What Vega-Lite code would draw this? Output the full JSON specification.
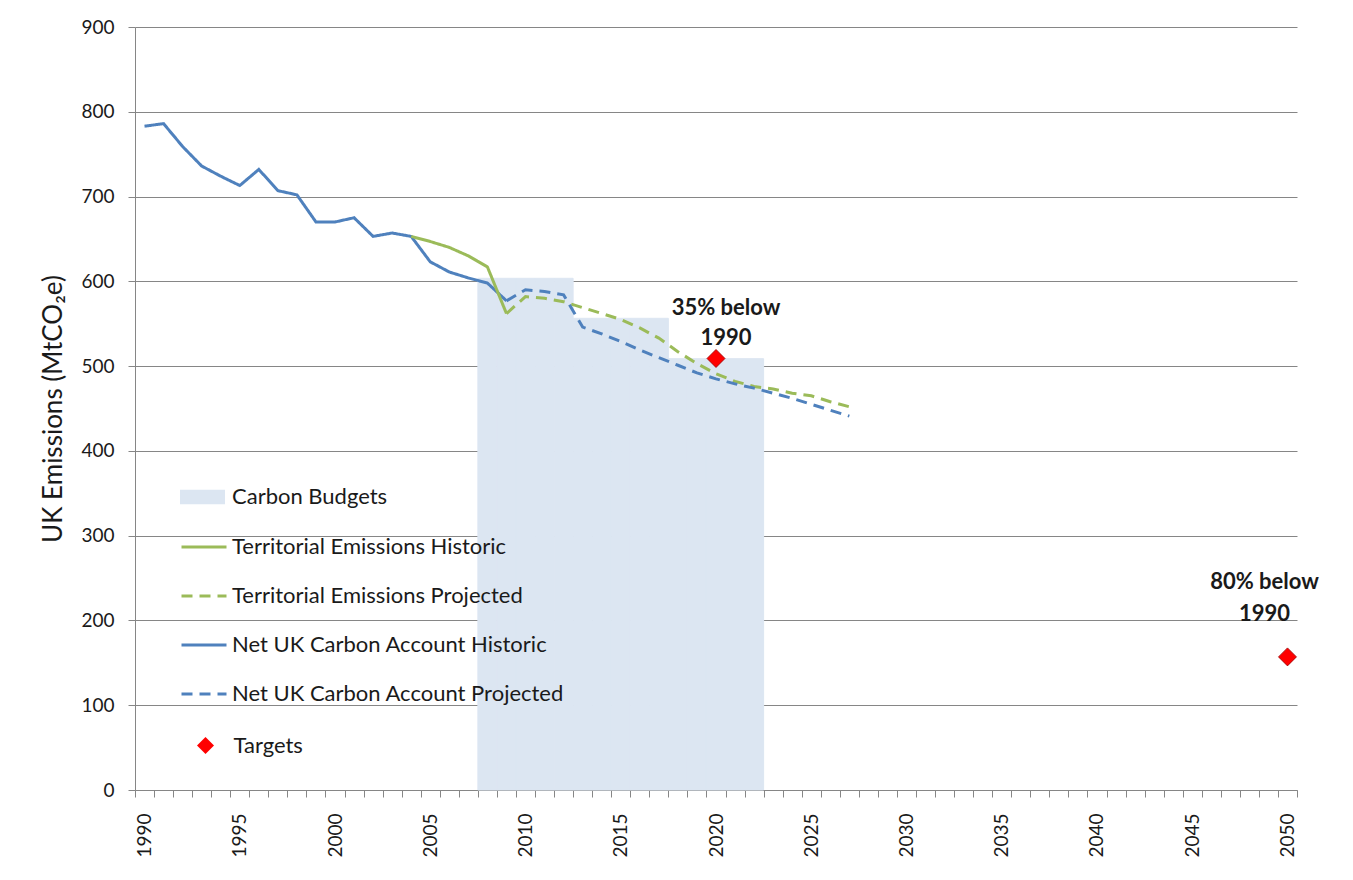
{
  "$schema": "https://vega.github.io/schema/vega-lite/v6.json",
  "width": 1162,
  "height": 763,
  "autosize": {"type": "none"},
  "padding": {"left": 135, "top": 27, "right": 56, "bottom": 90},
  "background": "white",
  "config": {"view": {"stroke": null}, "font": "Lato"},
  "datasets": {
    "emissions": [
      {"year": 1990, "series": "Net UK Carbon Account Historic", "value": 783},
      {"year": 1991, "series": "Net UK Carbon Account Historic", "value": 786},
      {"year": 1992, "series": "Net UK Carbon Account Historic", "value": 759},
      {"year": 1993, "series": "Net UK Carbon Account Historic", "value": 736},
      {"year": 1994, "series": "Net UK Carbon Account Historic", "value": 724},
      {"year": 1995, "series": "Net UK Carbon Account Historic", "value": 713},
      {"year": 1996, "series": "Net UK Carbon Account Historic", "value": 732},
      {"year": 1997, "series": "Net UK Carbon Account Historic", "value": 707},
      {"year": 1998, "series": "Net UK Carbon Account Historic", "value": 702},
      {"year": 1999, "series": "Net UK Carbon Account Historic", "value": 670},
      {"year": 2000, "series": "Net UK Carbon Account Historic", "value": 670},
      {"year": 2001, "series": "Net UK Carbon Account Historic", "value": 675},
      {"year": 2002, "series": "Net UK Carbon Account Historic", "value": 653},
      {"year": 2003, "series": "Net UK Carbon Account Historic", "value": 657},
      {"year": 2004, "series": "Net UK Carbon Account Historic", "value": 653},
      {"year": 2005, "series": "Net UK Carbon Account Historic", "value": 623},
      {"year": 2006, "series": "Net UK Carbon Account Historic", "value": 611},
      {"year": 2007, "series": "Net UK Carbon Account Historic", "value": 604},
      {"year": 2008, "series": "Net UK Carbon Account Historic", "value": 598},
      {"year": 2009, "series": "Net UK Carbon Account Historic", "value": 577},
      {"year": 2004, "series": "Territorial Emissions Historic", "value": 653},
      {"year": 2005, "series": "Territorial Emissions Historic", "value": 647},
      {"year": 2006, "series": "Territorial Emissions Historic", "value": 640},
      {"year": 2007, "series": "Territorial Emissions Historic", "value": 630},
      {"year": 2008, "series": "Territorial Emissions Historic", "value": 617},
      {"year": 2009, "series": "Territorial Emissions Historic", "value": 562},
      {"year": 2009, "series": "Territorial Emissions Projected", "value": 562},
      {"year": 2010, "series": "Territorial Emissions Projected", "value": 582},
      {"year": 2011, "series": "Territorial Emissions Projected", "value": 580},
      {"year": 2012, "series": "Territorial Emissions Projected", "value": 576},
      {"year": 2013, "series": "Territorial Emissions Projected", "value": 569},
      {"year": 2014, "series": "Territorial Emissions Projected", "value": 562},
      {"year": 2015, "series": "Territorial Emissions Projected", "value": 555},
      {"year": 2016, "series": "Territorial Emissions Projected", "value": 545},
      {"year": 2017, "series": "Territorial Emissions Projected", "value": 533},
      {"year": 2018, "series": "Territorial Emissions Projected", "value": 517},
      {"year": 2019, "series": "Territorial Emissions Projected", "value": 503},
      {"year": 2020, "series": "Territorial Emissions Projected", "value": 491},
      {"year": 2021, "series": "Territorial Emissions Projected", "value": 482},
      {"year": 2022, "series": "Territorial Emissions Projected", "value": 476},
      {"year": 2023, "series": "Territorial Emissions Projected", "value": 473},
      {"year": 2024, "series": "Territorial Emissions Projected", "value": 468},
      {"year": 2025, "series": "Territorial Emissions Projected", "value": 465},
      {"year": 2026, "series": "Territorial Emissions Projected", "value": 458},
      {"year": 2027, "series": "Territorial Emissions Projected", "value": 452},
      {"year": 2009, "series": "Net UK Carbon Account Projected", "value": 577},
      {"year": 2010, "series": "Net UK Carbon Account Projected", "value": 590},
      {"year": 2011, "series": "Net UK Carbon Account Projected", "value": 588},
      {"year": 2012, "series": "Net UK Carbon Account Projected", "value": 584},
      {"year": 2013, "series": "Net UK Carbon Account Projected", "value": 546},
      {"year": 2014, "series": "Net UK Carbon Account Projected", "value": 538},
      {"year": 2015, "series": "Net UK Carbon Account Projected", "value": 529},
      {"year": 2016, "series": "Net UK Carbon Account Projected", "value": 519},
      {"year": 2017, "series": "Net UK Carbon Account Projected", "value": 510},
      {"year": 2018, "series": "Net UK Carbon Account Projected", "value": 501},
      {"year": 2019, "series": "Net UK Carbon Account Projected", "value": 492},
      {"year": 2020, "series": "Net UK Carbon Account Projected", "value": 485},
      {"year": 2021, "series": "Net UK Carbon Account Projected", "value": 479},
      {"year": 2022, "series": "Net UK Carbon Account Projected", "value": 474},
      {"year": 2023, "series": "Net UK Carbon Account Projected", "value": 468},
      {"year": 2024, "series": "Net UK Carbon Account Projected", "value": 462},
      {"year": 2025, "series": "Net UK Carbon Account Projected", "value": 455},
      {"year": 2026, "series": "Net UK Carbon Account Projected", "value": 448},
      {"year": 2027, "series": "Net UK Carbon Account Projected", "value": 441}
    ],
    "budgets": [
      {"year": 2008, "series": "Carbon Budgets", "value": 603.6},
      {"year": 2009, "series": "Carbon Budgets", "value": 603.6},
      {"year": 2010, "series": "Carbon Budgets", "value": 603.6},
      {"year": 2011, "series": "Carbon Budgets", "value": 603.6},
      {"year": 2012, "series": "Carbon Budgets", "value": 603.6},
      {"year": 2013, "series": "Carbon Budgets", "value": 556.4},
      {"year": 2014, "series": "Carbon Budgets", "value": 556.4},
      {"year": 2015, "series": "Carbon Budgets", "value": 556.4},
      {"year": 2016, "series": "Carbon Budgets", "value": 556.4},
      {"year": 2017, "series": "Carbon Budgets", "value": 556.4},
      {"year": 2018, "series": "Carbon Budgets", "value": 508.8},
      {"year": 2019, "series": "Carbon Budgets", "value": 508.8},
      {"year": 2020, "series": "Carbon Budgets", "value": 508.8},
      {"year": 2021, "series": "Carbon Budgets", "value": 508.8},
      {"year": 2022, "series": "Carbon Budgets", "value": 508.8}
    ],
    "targets": [
      {"year": 2020, "series": "Targets", "value": 509, "label": "35% below\n1990"},
      {"year": 2050, "series": "Targets", "value": 157, "label": "80% below\n1990"}
    ]
  },
  "encoding": {
    "x": {
      "field": "year",
      "type": "ordinal",
      "scale": {
        "domain": [1990,1991,1992,1993,1994,1995,1996,1997,1998,1999,2000,2001,2002,2003,2004,2005,2006,2007,2008,2009,2010,2011,2012,2013,2014,2015,2016,2017,2018,2019,2020,2021,2022,2023,2024,2025,2026,2027,2028,2029,2030,2031,2032,2033,2034,2035,2036,2037,2038,2039,2040,2041,2042,2043,2044,2045,2046,2047,2048,2049,2050],
        "paddingInner": 0,
        "paddingOuter": 0
      },
      "axis": {
        "title": null,
        "tickBand": "extent",
        "labelAngle": -90,
        "labelExpr": "datum.value % 5 === 0 ? datum.label : ''",
        "labelFont": "Lato",
        "labelFontSize": 19,
        "labelColor": "#1a1a1a",
        "labelPadding": 16,
        "labelOverlap": false,
        "tickSize": 7,
        "tickColor": "#868686",
        "domainColor": "#868686",
        "grid": false
      }
    },
    "y": {
      "field": "value",
      "type": "quantitative",
      "scale": {"domain": [0, 900], "nice": false},
      "axis": {
        "title": "UK Emissions (MtCO₂e)",
        "titleFont": "Lato",
        "titleFontSize": 26,
        "titleFontWeight": "normal",
        "titleColor": "#1a1a1a",
        "titlePadding": 14,
        "values": [0,100,200,300,400,500,600,700,800,900],
        "labelFont": "Lato",
        "labelFontSize": 19,
        "labelColor": "#1a1a1a",
        "labelPadding": 14,
        "tickSize": 7,
        "tickColor": "#868686",
        "domainColor": "#868686",
        "grid": true,
        "gridColor": "#868686",
        "gridWidth": 1
      }
    }
  },
  "layer": [
    {
      "data": {"name": "budgets"},
      "mark": {"type": "bar", "opacity": 1, "stroke": "#DCE6F2", "strokeWidth": 1},
      "encoding": {
        "fill": {
          "field": "series",
          "type": "nominal",
          "scale": {"domain": ["Carbon Budgets"], "range": ["#DCE6F2"]},
          "legend": {
            "title": null,
            "orient": "none",
            "legendX": 45,
            "legendY": 447.5,
            "padding": 0,
            "labelFont": "Lato",
            "labelFontSize": 22,
            "labelColor": "#1a1a1a",
            "labelOffset": 7,
            "labelLimit": 600,
            "symbolType": "M-1,-0.32L1,-0.32L1,0.32L-1,0.32Z",
            "symbolSize": 2025,
            "symbolStrokeWidth": 0,
            "clipHeight": 45
          }
        }
      }
    },
    {
      "data": {"name": "emissions"},
      "mark": {"type": "line", "strokeWidth": 3},
      "encoding": {
        "color": {
          "field": "series",
          "type": "nominal",
          "scale": {
            "domain": ["Territorial Emissions Historic", "Territorial Emissions Projected", "Net UK Carbon Account Historic", "Net UK Carbon Account Projected"],
            "range": ["#9BBB59", "#9BBB59", "#4F81BD", "#4F81BD"]
          },
          "legend": {
            "title": null,
            "orient": "none",
            "legendX": 45,
            "legendY": 497.5,
            "padding": 0,
            "labelFont": "Lato",
            "labelFontSize": 22,
            "labelColor": "#1a1a1a",
            "labelOffset": 4,
            "labelLimit": 600,
            "symbolType": "stroke",
            "symbolSize": 2025,
            "symbolStrokeWidth": 3,
            "clipHeight": 45,
            "rowPadding": 4
          }
        },
        "strokeDash": {
          "field": "series",
          "type": "nominal",
          "scale": {
            "domain": ["Territorial Emissions Historic", "Territorial Emissions Projected", "Net UK Carbon Account Historic", "Net UK Carbon Account Projected"],
            "range": [[1, 0], [11, 7], [1, 0], [11, 7]]
          },
          "legend": {
            "title": null,
            "orient": "none",
            "legendX": 45,
            "legendY": 497.5,
            "padding": 0,
            "labelFont": "Lato",
            "labelFontSize": 22,
            "labelColor": "#1a1a1a",
            "labelOffset": 4,
            "labelLimit": 600,
            "symbolType": "stroke",
            "symbolSize": 2025,
            "symbolStrokeWidth": 3,
            "clipHeight": 45,
            "rowPadding": 4
          }
        }
      }
    },
    {
      "data": {"name": "targets"},
      "mark": {"type": "point", "filled": true, "size": 324, "opacity": 1, "stroke": "#990000", "strokeWidth": 0.8},
      "encoding": {
        "color": {"value": "#FF0000"},
        "shape": {
          "field": "series",
          "type": "nominal",
          "scale": {"domain": ["Targets"], "range": ["diamond"]},
          "legend": {
            "title": null,
            "orient": "none",
            "legendX": 59.5,
            "legendY": 707.5,
            "padding": 0,
            "labelFont": "Lato",
            "labelFontSize": 22,
            "labelColor": "#1a1a1a",
            "labelOffset": 17,
            "labelLimit": 600,
            "symbolSize": 289,
            "symbolFillColor": "#FF0000",
            "symbolStrokeColor": "#990000",
            "symbolStrokeWidth": 0.8,
            "symbolOpacity": 1
          }
        }
      }
    },
    {
      "data": {"name": "targets"},
      "transform": [{"filter": "datum.year === 2020"}],
      "mark": {"type": "text", "lineBreak": "\n", "lineHeight": 30, "font": "Lato", "fontSize": 22, "fontWeight": "bold", "color": "#1a1a1a", "align": "center", "baseline": "middle", "dx": 10, "dy": -50},
      "encoding": {"text": {"field": "label"}}
    },
    {
      "data": {"name": "targets"},
      "transform": [{"filter": "datum.year === 2050"}],
      "mark": {"type": "text", "lineBreak": "\n", "lineHeight": 32, "font": "Lato", "fontSize": 22, "fontWeight": "bold", "color": "#1a1a1a", "align": "center", "baseline": "middle", "dx": -23, "dy": -75},
      "encoding": {"text": {"field": "label"}}
    }
  ]
}
